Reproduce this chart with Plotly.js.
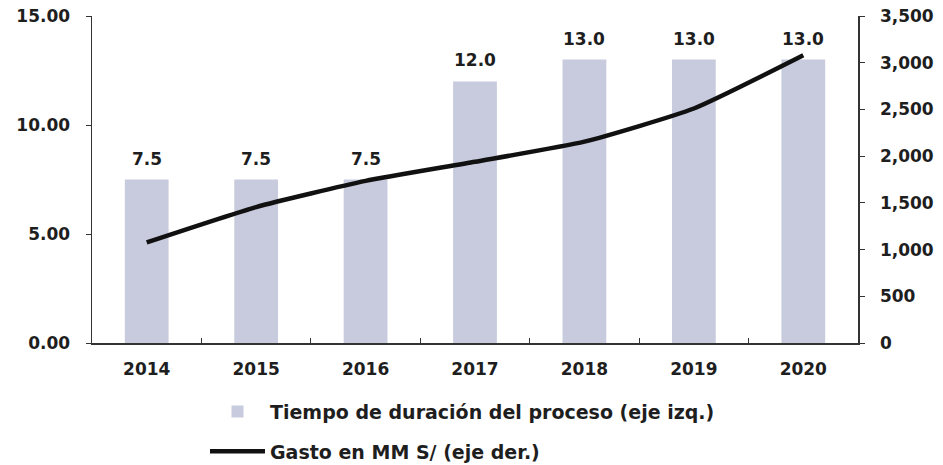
<!DOCTYPE html>
<html>
<head>
<meta charset="utf-8">
<script src="https://cdn.plot.ly/plotly-3.0.1.min.js"></script>
<style>html,body{margin:0;padding:0;background:#fff;}#chart{width:943px;height:465px;}</style>
</head>
<body>
<div id="chart"></div>
<script>
var years = ['2014', '2015', '2016', '2017', '2018', '2019', '2020'];
var duracion = [7.5, 7.5, 7.5, 12.0, 13.0, 13.0, 13.0];
var gasto = [1077, 1455, 1735, 1940, 2155, 2510, 3080];
var leftTicks = [0, 5, 10, 15];
var rightTicks = [0, 500, 1000, 1500, 2000, 2500, 3000, 3500];
var nameBar = 'Tiempo de duración del proceso (eje izq.)';
var nameLine = 'Gasto en MM S/ (eje der.)';

var FONT = 'DejaVu Sans, Arial, sans-serif';
var TXT = '#1e1e1e';

var barTrace = {
  type: 'bar', x: years, y: duracion, name: nameBar, legendgroup: 'a',
  width: 0.4,
  marker: {color: 'rgb(200,203,221)', line: {width: 0}},
  hoverinfo: 'x+y'
};
var lineTrace = {
  type: 'scatter', mode: 'lines', x: years, y: gasto, name: nameLine, legendgroup: 'b',
  yaxis: 'y2',
  line: {color: '#111111', width: 4.5, shape: 'spline', smoothing: 0.5}
};

// value labels above the bars (x given as the category index on the category axis)
var annotations = years.map(function (yr, i) {
  return {
    x: i, y: duracion[i], xref: 'x', yref: 'y',
    text: duracion[i].toFixed(1), showarrow: false,
    yanchor: 'bottom', yshift: 9,
    font: {family: FONT, size: 17, color: TXT, weight: 'bold'}
  };
});

var layout = {
  width: 943, height: 465,
  margin: {l: 92, r: 85, t: 16, b: 122, autoexpand: false},
  paper_bgcolor: '#ffffff', plot_bgcolor: '#ffffff',
  font: {family: FONT, size: 17, color: TXT, weight: 'bold'},
  showlegend: true,
  legend: {
    xref: 'paper', yref: 'paper',
    x: 0.1475, y: -0.152, xanchor: 'left', yanchor: 'top',
    orientation: 'v', traceorder: 'grouped', tracegroupgap: 12,
    itemwidth: 55, bgcolor: 'rgba(0,0,0,0)',
    font: {family: FONT, size: 19, color: TXT, weight: 'bold'}
  },
  xaxis: {
    type: 'category', categoryorder: 'array', categoryarray: years,
    autorange: false, range: [-0.5, years.length - 0.5],
    tickson: 'boundaries', ticks: 'inside', ticklen: 5,
    tickcolor: '#333', showline: true, linecolor: '#333', linewidth: 1.5,
    showgrid: false, zeroline: false, ticklabelstandoff: 10, tickangle: 0,
    tickfont: {family: FONT, size: 17, color: TXT, weight: 'bold'}
  },
  yaxis: {
    range: [0, 15], autorange: false, tickvals: leftTicks, tickformat: '.2f',
    ticks: 'outside', ticklen: 5, tickcolor: '#333',
    showline: true, linecolor: '#333', linewidth: 1.5,
    showgrid: false, zeroline: false, ticklabelstandoff: 12,
    tickfont: {family: FONT, size: 17, color: TXT, weight: 'bold'}
  },
  yaxis2: {
    range: [0, 3500], autorange: false, overlaying: 'y', side: 'right', tickvals: rightTicks, tickformat: ',d',
    ticks: 'outside', ticklen: 5, tickcolor: '#333',
    showline: true, linecolor: '#333', linewidth: 1.5,
    showgrid: false, zeroline: false, ticklabelstandoff: 12,
    tickfont: {family: FONT, size: 17, color: TXT, weight: 'bold'}
  },
  annotations: annotations
};

Plotly.newPlot('chart', [barTrace, lineTrace], layout, {displayModeBar: false, staticPlot: true});
</script>
</body>
</html>
